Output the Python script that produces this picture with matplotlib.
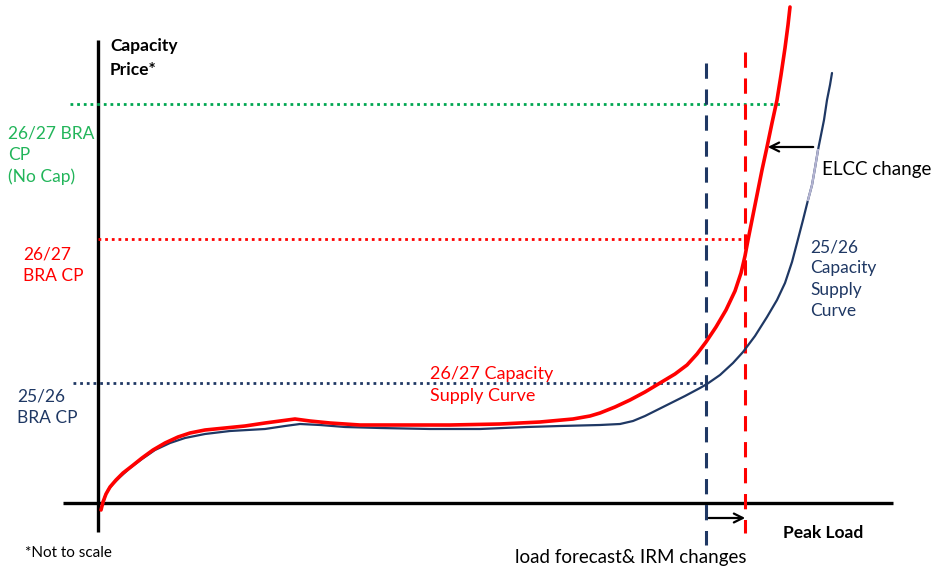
import matplotlib.pyplot as plt

# chart drawn in picture coordinates (x right, y down), conceptual curve
RED = '#FF0000'
NAVY = '#1F3864'
GREEN = '#00A651'
GREEN_TXT = '#22B55A'

# 26/27 capacity supply curve
red_x = [101, 103, 106, 110, 116, 123, 132, 142, 153, 165, 178, 190, 205, 225, 245,
         265, 280, 295, 310, 330, 360, 400, 450, 500, 540, 573, 590, 600, 615, 630,
         645, 660, 675, 687, 697, 706, 716, 726, 735, 741, 745, 748, 752, 757, 762,
         767, 772, 777, 781, 785, 788, 790]
red_y = [510, 502, 494, 487, 480, 473, 466, 458, 450, 443, 437, 433, 430, 428, 426,
         423, 421, 419, 421, 423, 425, 425, 425, 424, 422, 419, 416, 413, 407, 400,
         392, 383, 374, 365, 354, 342, 327, 310, 291, 273, 256, 240, 220, 195, 170,
         147, 123, 100, 75, 48, 25, 7]

# 25/26 capacity supply curve
navy_x = [103, 105, 108, 113, 120, 130, 142, 155, 170, 185, 205, 230, 265, 285, 300,
          320, 345, 380, 430, 480, 527, 560, 600, 620, 633, 645, 657, 667, 685, 700,
          707, 720, 733, 743, 755, 767, 777, 785, 792, 797, 803, 808, 812, 815, 818,
          821, 824, 827, 830, 832]
navy_y = [505, 496, 490, 484, 477, 468, 459, 450, 443, 438, 434, 431, 429, 426, 424,
          425, 427, 428, 429, 429, 427, 426, 425, 424, 421, 416, 410, 405, 396, 388,
          384, 375, 363, 352, 336, 317, 300, 283, 262, 243, 220, 200, 185, 168, 150,
          135, 120, 100, 85, 73]

# price levels (horizontal reference lines)
green_level = 104
red_level = 239
navy_level = 383

# peak load positions
navy_load = 706
red_load = 745

plt.rcParams['font.family'] = ['Lato', 'DejaVu Sans']

fig = plt.figure(figsize=(9.33, 5.68), dpi=100)
ax = fig.add_axes([0, 0, 1, 1])
ax.set_xlim(0, 933)
ax.set_ylim(568, 0)
ax.axis('off')

# axes
ax.plot([98, 98], [40, 532], color='black', lw=2.4, solid_capstyle='butt')
ax.plot([63, 893], [503, 503], color='black', lw=2.4, solid_capstyle='butt')

# price levels
ax.plot([70, 780], [green_level, green_level], color=GREEN, lw=2, ls=(0, (1, 1.4)))
ax.plot([98, red_load], [red_level, red_level], color=RED, lw=2, ls=(0, (1, 1.4)))
ax.plot([73, navy_load], [navy_level, navy_level], color=NAVY, lw=2, ls=(0, (1, 1.4)))

# peak load verticals
ax.plot([navy_load, navy_load], [63, 545], color=NAVY, lw=2.2, ls=(0, (5, 3.5)))
ax.plot([red_load, red_load], [52, 533], color=RED, lw=2.2, ls=(0, (5, 3.5)))

# supply curves
ax.plot(navy_x, navy_y, color=NAVY, lw=1.6, solid_capstyle='round', solid_joinstyle='round')
ax.plot(navy_x[-9:-5], navy_y[-9:-5], color='#B4B4D2', lw=1.6)
ax.plot(red_x, red_y, color=RED, lw=2.6, solid_capstyle='round', solid_joinstyle='round')

# arrows
ax.annotate('', xy=(765, 147), xytext=(816, 147),
            arrowprops=dict(arrowstyle='->', color='black', lw=1.6, mutation_scale=16))
ax.annotate('', xy=(748, 518), xytext=(706, 518),
            arrowprops=dict(arrowstyle='->', color='black', lw=1.6, mutation_scale=16))

fs = 12.5
ax.text(110, 46, 'Capacity', fontsize=12.5, fontweight='bold', va='center')
ax.text(110, 70, 'Price*', fontsize=12.5, fontweight='bold', va='center')
ax.text(8, 155, '26/27 BRA\nCP\n(No Cap)', color=GREEN_TXT, fontsize=fs, va='center',
        linespacing=1.4)
ax.text(23, 265, '26/27\nBRA CP', color=RED, fontsize=fs, va='center', linespacing=1.4)
ax.text(17, 407, '25/26\nBRA CP', color=NAVY, fontsize=fs, va='center', linespacing=1.4)
ax.text(430, 385, '26/27 Capacity\nSupply Curve', color=RED, fontsize=13, va='center',
        linespacing=1.4)
ax.text(810, 279, '25/26\nCapacity\nSupply\nCurve', color=NAVY, fontsize=fs, va='center',
        linespacing=1.4)
ax.text(822, 170, 'ELCC change', color='black', fontsize=13.5, va='center')
ax.text(783, 533, 'Peak Load', fontsize=12.5, fontweight='bold', va='center')
ax.text(631, 557, 'load forecast& IRM changes', fontsize=13.5, va='center', ha='center')
ax.text(25, 553, '*Not to scale', fontsize=11, va='center')

fig.savefig('out.png', dpi=100)
